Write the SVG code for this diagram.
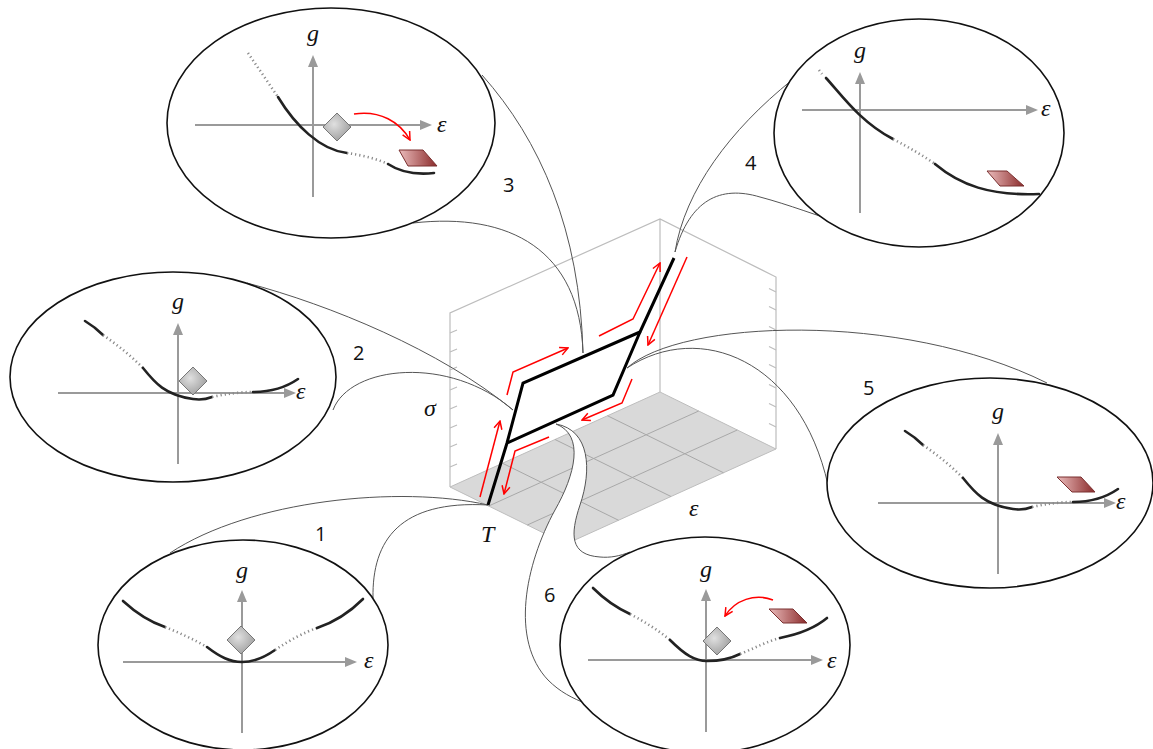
<svg xmlns="http://www.w3.org/2000/svg" width="1153" height="749" viewBox="0 0 1153 749">
<style>
.box{fill:none;stroke:#bdbdbd;stroke-width:1.2}
.grid{fill:none;stroke:#a8a8a8;stroke-width:1}
.conn{fill:none;stroke:#555;stroke-width:1}
.ell{fill:#fff;stroke:#111;stroke-width:1.6}
.ax{fill:none;stroke:#9a9a9a;stroke-width:2;marker-end:url(#ga)}
.sol{fill:none;stroke:#222;stroke-width:2.6;stroke-linecap:round}
.dot{fill:none;stroke:#8a8a8a;stroke-width:2.6;stroke-dasharray:1.2 3}
.dia{fill:url(#gd);stroke:#777;stroke-width:1}
.par{fill:url(#gp);stroke:#7a3030;stroke-width:1}
.red{fill:none;stroke:#f00;stroke-width:1.5;marker-end:url(#ra)}
.loop{fill:none;stroke:#000;stroke-width:3;stroke-linejoin:miter}
.it{font-family:"Liberation Serif","DejaVu Serif",serif;font-style:italic;font-size:24px;fill:#111}
.num{font-family:"Open Sans","Liberation Sans",sans-serif;font-size:20px;fill:#111}
</style>
<defs>
<marker id="ga" viewBox="0 0 12 10" refX="0" refY="5" markerWidth="12" markerHeight="10" markerUnits="userSpaceOnUse" orient="auto"><path d="M0,0 L12,5 L0,10Z" fill="#9a9a9a"/></marker>
<marker id="ra" viewBox="0 0 10 10" refX="9" refY="5" markerWidth="10" markerHeight="10" markerUnits="userSpaceOnUse" orient="auto"><path d="M1,1 L9,5 L1,9" fill="none" stroke="#f00" stroke-width="1.5"/></marker>
<radialGradient id="gd" cx="0.4" cy="0.4" r="0.7"><stop offset="0" stop-color="#e0e0e0"/><stop offset="1" stop-color="#999"/></radialGradient>
<linearGradient id="gp" x1="0" y1="0" x2="1" y2="0"><stop offset="0" stop-color="#ebbcbc"/><stop offset="1" stop-color="#8a2a2a"/></linearGradient>
</defs>

<g id="box">
<polygon points="450,487 660,392 776,449 566,544" fill="#d9d9d9" stroke="#bdbdbd" stroke-width="1"/>
<path class="grid" d="M502.5,463.25 L618.5,520.25 M555,439.5 L671,496.5 M607.5,415.75 L723.5,472.75 M488.7,506 L698.7,411 M527.3,525 L737.3,430"/>
<path class="box" d="M450,487 V313 L660,219 L776,277 V449 M660,219 V392"/>
<path class="box" d="M450,333 l7,-3 M450,352 l7,-3 M450,370 l7,-3 M450,390 l7,-3 M450,409 l7,-3 M450,428 l7,-3 M450,447 l7,-3 M450,467 l7,-3"/>
<path class="box" d="M776,292 l-7,-3.5 M776,310 l-7,-3.5 M776,330 l-7,-3.5 M776,350 l-7,-3.5 M776,368 l-7,-3.5 M776,388 l-7,-3.5 M776,407 l-7,-3.5 M776,427 l-7,-3.5"/>
<text class="it" x="424" y="416">σ</text>
<text class="it" x="689" y="516">ε</text>
<text class="it" x="481" y="542">T</text>
</g>

<g id="connectors">
<path d="M556,424 C590,430 592,470 580,505 C570,535 570,555 600,557 C610,558 620,556 627,553 L585,703 C572,698 560,692 548,680 C510,640 525,565 555,510 C575,475 585,435 556,424Z" fill="#fff" stroke="none"/>
<path class="conn" d="M556,424 C590,430 592,470 580,505 C570,535 570,555 600,557 C610,558 620,556 630,552"/>
<path class="conn" d="M556,424 C585,435 575,475 555,510 C525,565 510,640 548,680 C560,692 572,698 587,704"/>
<path class="conn" d="M482,75 C540,140 580,230 583,353"/>
<path class="conn" d="M413,223 C510,212 580,250 583,353"/>
<path class="conn" d="M792,80 C730,130 685,190 675,252"/>
<path class="conn" d="M675,252 C690,200 720,185 760,197 C790,205 815,215 850,226"/>
<path class="conn" d="M247,283 C330,305 440,350 513,410"/>
<path class="conn" d="M333,410 C350,365 450,355 513,410"/>
<path class="conn" d="M627,368 C680,320 900,310 1047,383"/>
<path class="conn" d="M627,368 C700,320 800,360 828,485"/>
<path class="conn" d="M170,553 C250,500 400,485 488,505"/>
<path class="conn" d="M373,598 C372,540 400,500 488,505"/>
</g>

<g id="loop">
<path class="loop" d="M488,505 L507,443 L523,383 L640,332 L674,258"/>
<path class="loop" d="M640,332 L613,395 L507,443"/>
<path class="red" d="M480,497 L500,421"/>
<path class="red" d="M507,395 L513,372 L568,348"/>
<path class="red" d="M599,336 L633,319 L660,263"/>
<path class="red" d="M687,257 L648,345"/>
<path class="red" d="M632,379 L622,403 L582,420"/>
<path class="red" d="M549,437 L515,451 L504,494"/>
</g>

<g id="n3">
<ellipse class="ell" cx="331" cy="123" rx="164" ry="115"/>
<path class="ax" d="M195,125 H420"/>
<path class="ax" d="M313,197 V67"/>
<path class="dot" d="M248,53 Q263,75 278,97"/>
<path class="sol" d="M278,97 C295,125 320,150 347,153"/>
<path class="dot" d="M347,153 C360,155 375,158 388,164"/>
<path class="sol" d="M388,164 C400,172 415,175 434,173"/>
<polygon class="dia" points="337,113 351,127 337,141 323,127"/>
<path class="red" d="M354,114 C380,110 400,122 410,140"/>
<polygon class="par" points="399,150 423,150 437,166 408,166"/>
<text class="it" x="307" y="41">g</text>
<text class="it" x="437" y="132">ε</text>
<text class="num" x="503" y="192">3</text>
</g>

<g id="n4">
<ellipse class="ell" cx="919" cy="133" rx="145" ry="114"/>
<path class="ax" d="M802,110 H1026"/>
<path class="ax" d="M860,213 V84"/>
<path class="dot" d="M819,70 L822,74"/>
<path class="sol" d="M826,78 C840,93 860,122 893,139"/>
<path class="dot" d="M893,139 C910,148 922,155 935,164"/>
<path class="sol" d="M935,164 C960,185 990,196 1039,194"/>
<polygon class="par" points="987,171 1007,171 1024,186 1000,186"/>
<text class="it" x="854" y="58">g</text>
<text class="it" x="1041" y="116">ε</text>
<text class="num" x="745" y="170">4</text>
</g>

<g id="n2">
<ellipse class="ell" cx="173" cy="377" rx="163" ry="105"/>
<path class="ax" d="M58,393 H284"/>
<path class="ax" d="M178,464 V335"/>
<path class="sol" d="M85,321 Q95,327 103,335"/>
<path class="dot" d="M103,335 Q125,350 143,368"/>
<path class="sol" d="M143,368 C155,383 165,395 193,399 C200,400 207,399 212,397"/>
<path class="dot" d="M212,397 Q235,392 253,392"/>
<path class="sol" d="M253,392 C270,392 285,388 298,379"/>
<polygon class="dia" points="193,367 207,381 193,395 179,381"/>
<text class="it" x="172" y="309">g</text>
<text class="it" x="296" y="399">ε</text>
<text class="num" x="353" y="360">2</text>
</g>

<g id="n5">
<ellipse class="ell" cx="990" cy="483" rx="163" ry="105"/>
<path class="ax" d="M878,503 H1104"/>
<path class="ax" d="M998,574 V445"/>
<path class="sol" d="M905,431 Q915,437 923,445"/>
<path class="dot" d="M923,445 Q945,460 963,478"/>
<path class="sol" d="M963,478 C975,493 985,505 1013,509 C1020,510 1027,509 1032,507"/>
<path class="dot" d="M1032,507 Q1055,502 1073,502"/>
<path class="sol" d="M1073,502 C1090,502 1105,498 1118,489"/>
<polygon class="par" points="1057,477 1081,477 1095,492 1072,492"/>
<text class="it" x="992" y="419">g</text>
<text class="it" x="1116" y="509">ε</text>
<text class="num" x="863" y="395">5</text>
</g>

<g id="n1">
<ellipse class="ell" cx="243" cy="645" rx="145" ry="105"/>
<path class="ax" d="M123,662 H345"/>
<path class="ax" d="M242,733 V602"/>
<path class="sol" d="M123,601 C135,612 150,622 165,627"/>
<path class="dot" d="M165,627 C180,633 195,640 207,647"/>
<path class="sol" d="M207,647 C220,657 230,662 242,662 C255,662 265,657 275,650"/>
<path class="dot" d="M275,650 C290,640 305,632 317,628"/>
<path class="sol" d="M317,628 C335,622 350,612 363,599"/>
<polygon class="dia" points="241,626 255,640 241,654 227,640"/>
<text class="it" x="236" y="578">g</text>
<text class="it" x="364" y="668">ε</text>
<text class="num" x="315" y="541">1</text>
</g>

<g id="n6">
<ellipse class="ell" cx="705" cy="645" rx="145" ry="108"/>
<path class="ax" d="M588,660 H811"/>
<path class="ax" d="M706,732 V601"/>
<path class="sol" d="M593,588 C605,600 617,608 630,614"/>
<path class="dot" d="M630,614 C645,622 658,630 670,640"/>
<path class="sol" d="M670,640 C685,655 695,661 707,661 C720,661 730,659 740,654"/>
<path class="dot" d="M740,654 C755,648 768,641 780,638"/>
<path class="sol" d="M780,638 C800,634 815,628 827,618"/>
<polygon class="dia" points="717,627 731,641 717,655 703,641"/>
<path class="red" d="M773,600 C755,593 735,600 725,616"/>
<polygon class="par" points="769,609 793,609 807,623 783,623"/>
<text class="it" x="700" y="577">g</text>
<text class="it" x="827" y="668">ε</text>
<text class="num" x="544" y="602">6</text>
</g>
</svg>
